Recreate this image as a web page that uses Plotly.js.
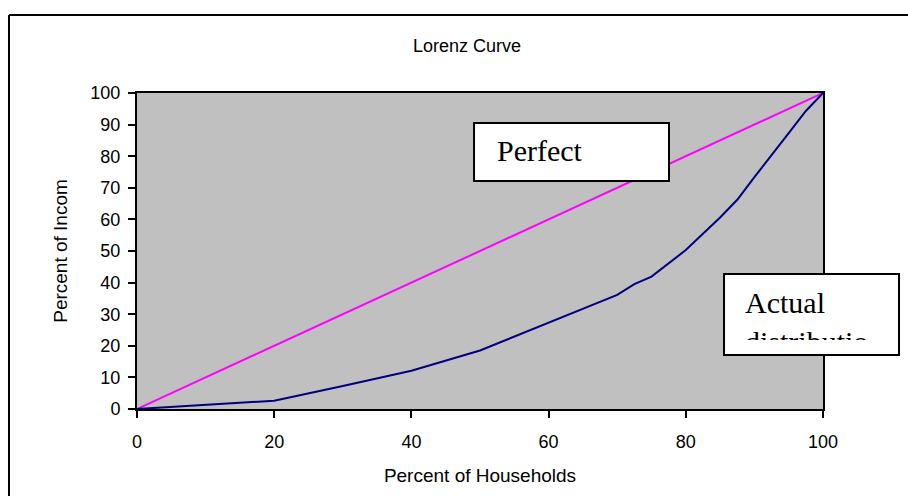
<!DOCTYPE html>
<html>
<head>
<meta charset="utf-8">
<script src="https://cdn.plot.ly/plotly-3.0.1.min.js"></script>
<style>
  html, body { margin: 0; padding: 0; background: #ffffff; }
  #chart { width: 908px; height: 496px; }
</style>
</head>
<body>
<div id="chart"></div>
<script>
// ---- data ----
var chartTitle = "Lorenz Curve";
var xTitle = "Percent of Households";
var yTitle = "Percent of Incom";

var perfectX = [0, 100];
var perfectY = [0, 100];

var actualX = [0, 20, 30, 40, 50, 60, 70, 72.5, 75, 80, 82.5, 85, 87.5, 90, 95, 97.5, 100];
var actualY = [0, 2.6, 7.3, 12.1, 18.5, 27.3, 36.1, 39.5, 41.9, 50.3, 55.5, 60.6, 66.2, 73.4, 87.3, 94.3, 100];

var xTickVals = [0, 20, 40, 60, 80, 100];
var yTickVals = [0, 10, 20, 30, 40, 50, 60, 70, 80, 90, 100];

var perfectLabel = "Perfect";
var actualLabel = "Actual<br>distributio";

// ---- chart ----
var traces = [
  {
    x: perfectX, y: perfectY, type: "scatter", mode: "lines",
    line: { color: "#FF00FF", width: 2 }, name: "Perfect", hoverinfo: "skip"
  },
  {
    x: actualX, y: actualY, type: "scatter", mode: "lines",
    line: { color: "#000080", width: 2 }, name: "Actual", hoverinfo: "skip"
  }
];

var axisCommon = {
  showgrid: false, zeroline: false,
  showline: true, mirror: true, linecolor: "#000000", linewidth: 2,
  ticks: "outside", ticklen: 7, tickwidth: 2, tickcolor: "#000000",
  tickfont: { family: "Liberation Sans, Arial, sans-serif", size: 18, color: "#000000" }
};

var layout = {
  width: 908, height: 496,
  margin: { l: 137, r: 85, t: 93, b: 87 },
  paper_bgcolor: "#ffffff",
  plot_bgcolor: "#C0C0C0",
  showlegend: false,
  title: {
    text: chartTitle,
    font: { family: "Liberation Sans, Arial, sans-serif", size: 18, color: "#000000" },
    x: 0.481, xref: "paper", xanchor: "center",
    y: 1 - 46 / 496, yref: "container", yanchor: "middle"
  },
  xaxis: Object.assign({}, axisCommon, {
    range: [0, 100], tickvals: xTickVals, ticklabelstandoff: 8,
    title: { text: xTitle, standoff: 18,
      font: { family: "Liberation Sans, Arial, sans-serif", size: 19, color: "#000000" } }
  }),
  yaxis: Object.assign({}, axisCommon, {
    range: [0, 100], tickvals: yTickVals, ticklabelstandoff: 4,
    title: { text: yTitle, standoff: 18,
      font: { family: "Liberation Sans, Arial, sans-serif", size: 19, color: "#000000" } }
  }),
  shapes: [
    { type: "line", xref: "paper", yref: "paper", layer: "above",
      x0: -0.1866, x1: -0.1866, y0: -1.5, y1: 1.2468,
      line: { color: "#000000", width: 2 } },
    { type: "line", xref: "paper", yref: "paper", layer: "above",
      x0: -0.1866, x1: 2.5, y0: 1.2468, y1: 1.2468,
      line: { color: "#000000", width: 2 } },
    { type: "rect", xref: "paper", yref: "paper", layer: "above",
      x0: 0.4913, x1: 0.7755, y0: 0.7215, y1: 0.905,
      line: { color: "#000000", width: 2 }, fillcolor: "#ffffff" },
    { type: "rect", xref: "paper", yref: "paper", layer: "above",
      x0: 0.8557, x1: 1.1108, y0: 0.1709, y1: 0.4272,
      line: { color: "#000000", width: 2 }, fillcolor: "#ffffff" }
  ],
  annotations: [
    { text: perfectLabel, xref: "paper", yref: "paper", x: 0.5219, y: 0.8177,
      xanchor: "left", yanchor: "middle", showarrow: false,
      font: { family: "Liberation Serif, Times New Roman, serif", size: 30, color: "#000000" } },
    { text: actualLabel, xref: "paper", yref: "paper", x: 0.887, y: 0.3877,
      xanchor: "left", yanchor: "top", showarrow: false, align: "left", valign: "top",
      width: 150, height: 54, borderpad: 0, borderwidth: 0,
      font: { family: "Liberation Serif, Times New Roman, serif", size: 30, color: "#000000" } }
  ]
};

Plotly.newPlot("chart", traces, layout, { displayModeBar: false, staticPlot: true });
</script>
</body>
</html>
